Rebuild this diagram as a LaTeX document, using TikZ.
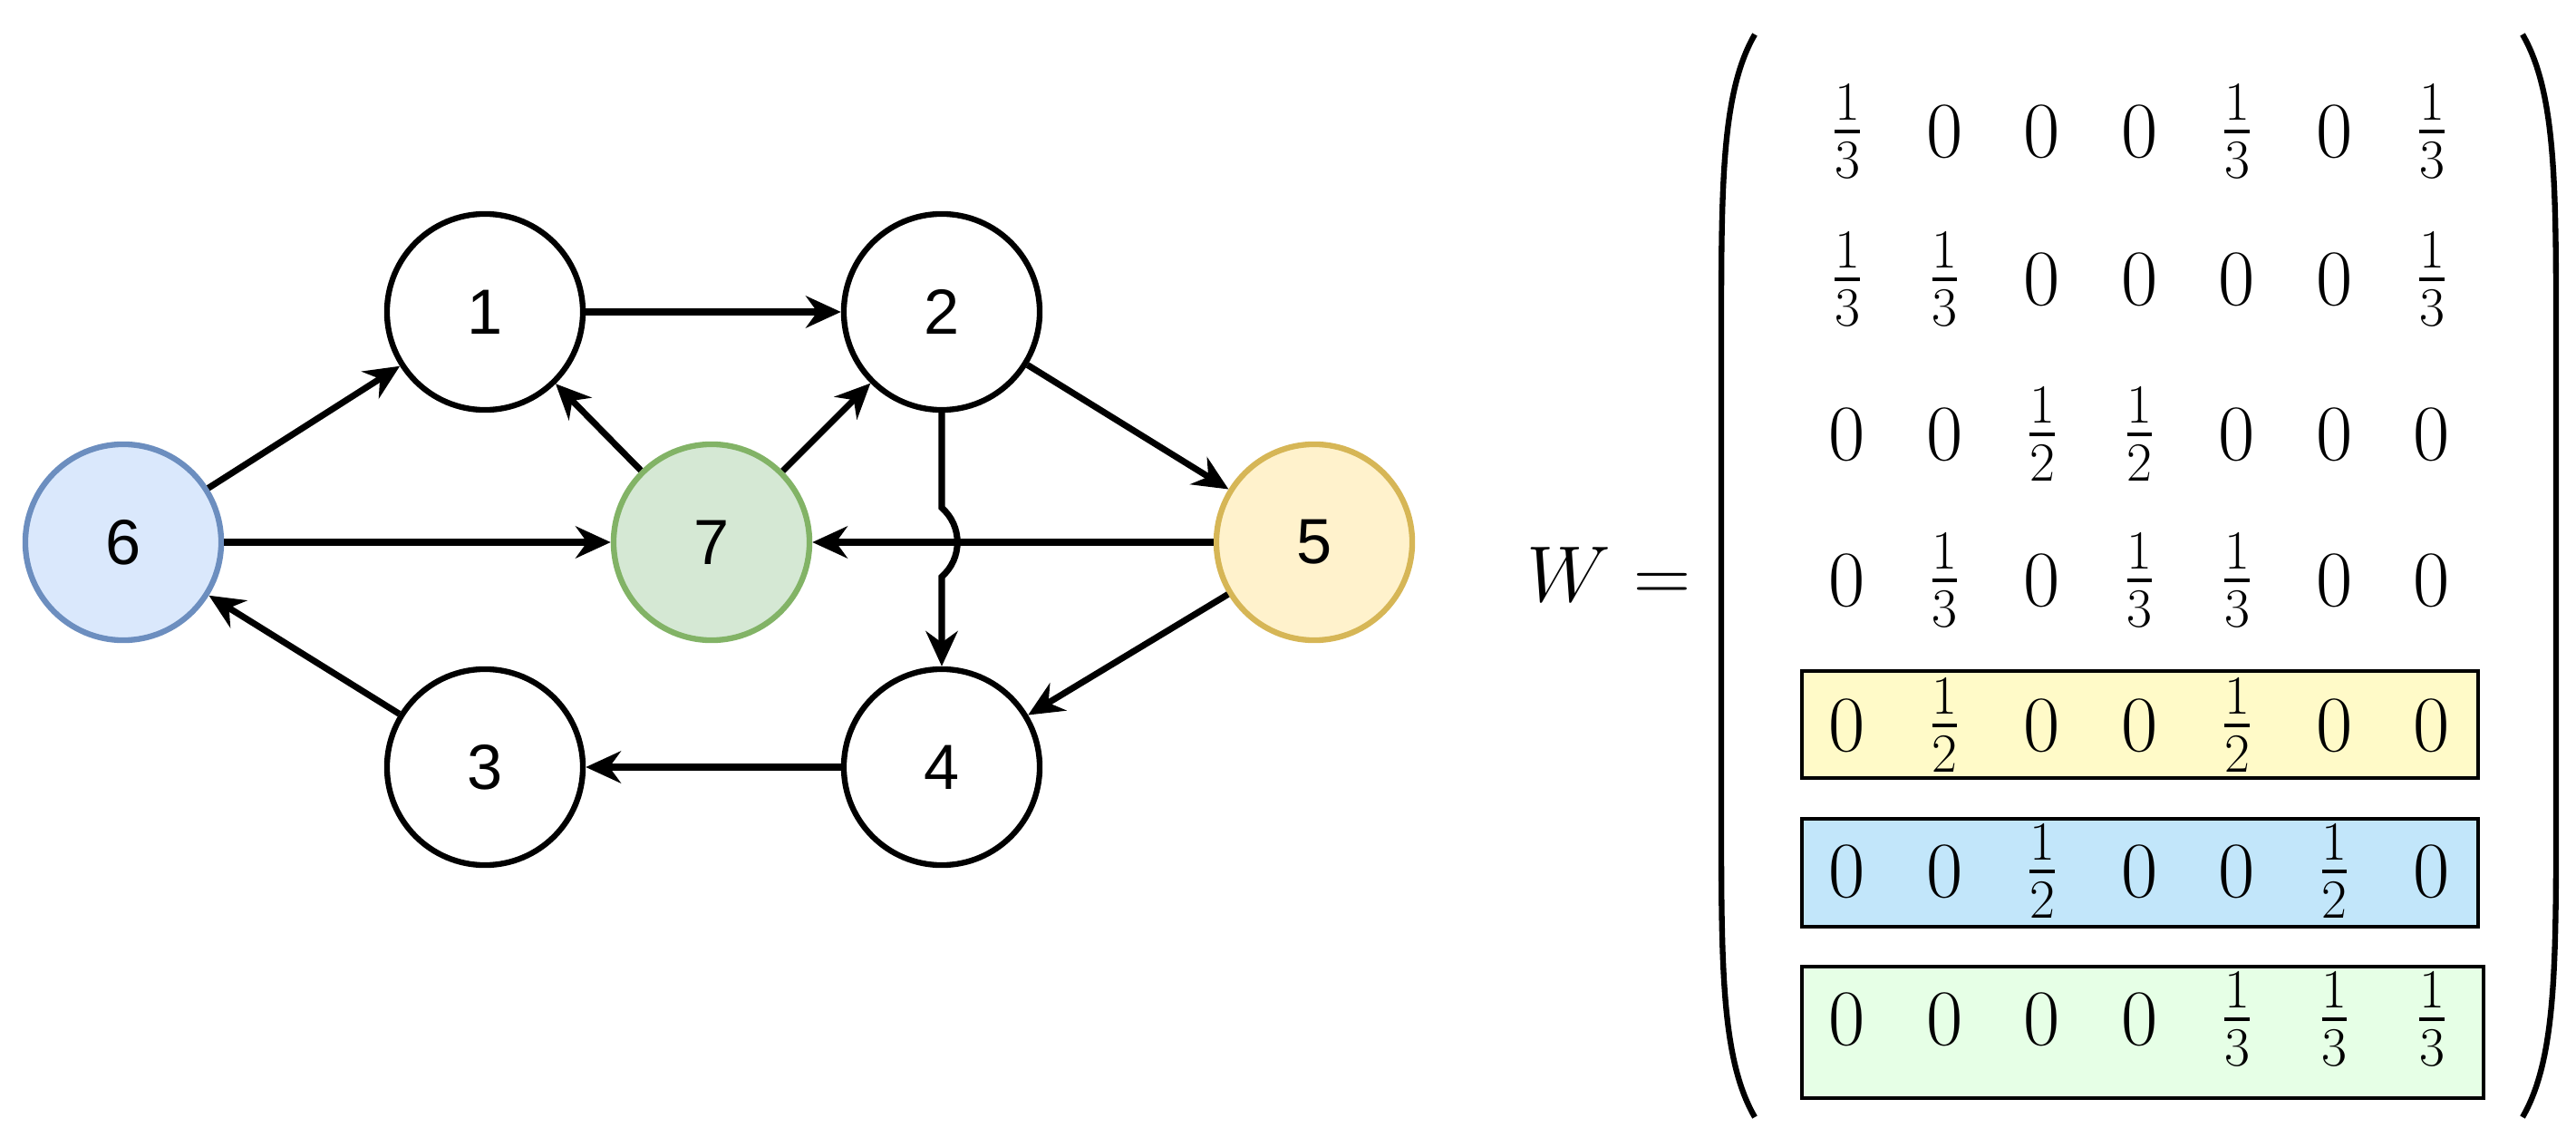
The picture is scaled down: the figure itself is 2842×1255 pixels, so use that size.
\documentclass[tikz,border=0pt]{standalone}
\usepackage{amsmath}
\usepackage{fontspec}
\newfontfamily\lab{Liberation Sans}
\usetikzlibrary{arrows.meta}
\definecolor{bF}{HTML}{DAE8FC}\definecolor{bS}{HTML}{6C8EBF}
\definecolor{gF}{HTML}{D5E8D4}\definecolor{gS}{HTML}{82B366}
\definecolor{yF}{HTML}{FFF2CC}\definecolor{yS}{HTML}{D6B656}
\definecolor{yB}{HTML}{FFFAC8}\definecolor{bB}{HTML}{C2E6FA}\definecolor{gB}{HTML}{E6FFE6}
\begin{document}
\begin{tikzpicture}[x=0.01cm,y=-0.01cm,
  vx/.style={circle,draw,line width=1.8pt,minimum size=2.16cm,inner sep=0pt,font=\lab\fontsize{20}{24}\selectfont},
  ed/.style={line width=2pt,-{Stealth[length=11pt,width=10pt]}},
  ent/.style={inner sep=0pt,font=\fontsize{25}{30}\selectfont},
  rowbox/.style={draw,line width=1.3pt},
  par/.style={line width=1.8pt}]
\useasboundingbox (0,0) rectangle (2842,1255);
\node[vx,fill=bF,draw=bS] (n6) at (136,598) {6};
\node[vx] (n1) at (535,344) {1};
\node[vx] (n2) at (1039,344) {2};
\node[vx,fill=gF,draw=gS] (n7) at (785,598) {7};
\node[vx,fill=yF,draw=yS] (n5) at (1450,598) {5};
\node[vx] (n3) at (535,846) {3};
\node[vx] (n4) at (1039,846) {4};
\draw[ed] (n6) -- (n1);
\draw[ed] (n1) -- (n2);
\draw[ed] (n2) -- (n5);
\draw[ed] (n7) -- (n1);
\draw[ed] (n7) -- (n2);
\draw[ed] (n6) -- (n7);
\draw[ed] (n5) -- (n7);
\draw[ed] (n5) -- (n4);
\draw[ed] (n4) -- (n3);
\draw[ed] (n3) -- (n6);
\coordinate (j1) at (1039,560);
\coordinate (j2) at (1039,636);
\draw[ed] (n2.south) -- (j1) .. controls (1062,580) and (1062,616) .. (j2) -- (n4.north);
% matrix
\node[ent] (W) at (1775,634) {$W=$};
\fill[yB] (1988,740) rectangle (2734,858);
\draw[rowbox] (1988,740) rectangle (2734,858);
\fill[bB] (1988,903) rectangle (2734,1022);
\draw[rowbox] (1988,903) rectangle (2734,1022);
\fill[gB] (1988,1066) rectangle (2740,1211);
\draw[rowbox] (1988,1066) rectangle (2740,1211);
\def\t{\tfrac13}\def\h{\tfrac12}
\foreach \row/\yy [count=\r] in {{\t,0,0,0,\t,0,\t}/145,{\t,\t,0,0,0,0,\t}/308,{0,0,\h,\h,0,0,0}/479,{0,\t,0,\t,\t,0,0}/640,{0,\h,0,0,\h,0,0}/800,{0,0,\h,0,0,\h,0}/961,{0,0,0,0,\t,\t,\t}/1124}{
  \foreach \e [count=\c] in \row {
    \node[ent] (m\r\c) at ({2038+107.5*(\c-1)},\yy) {$\e$};
  }
}
\draw[par] (1936,38) .. controls (1900,100) and (1899,200) .. (1899,360) -- (1899,910) .. controls (1899,1070) and (1900,1170) .. (1936,1232);
\draw[par] (2783,38) .. controls (2819,100) and (2820,200) .. (2820,360) -- (2820,910) .. controls (2820,1070) and (2819,1170) .. (2783,1232);
\end{tikzpicture}
\end{document}
